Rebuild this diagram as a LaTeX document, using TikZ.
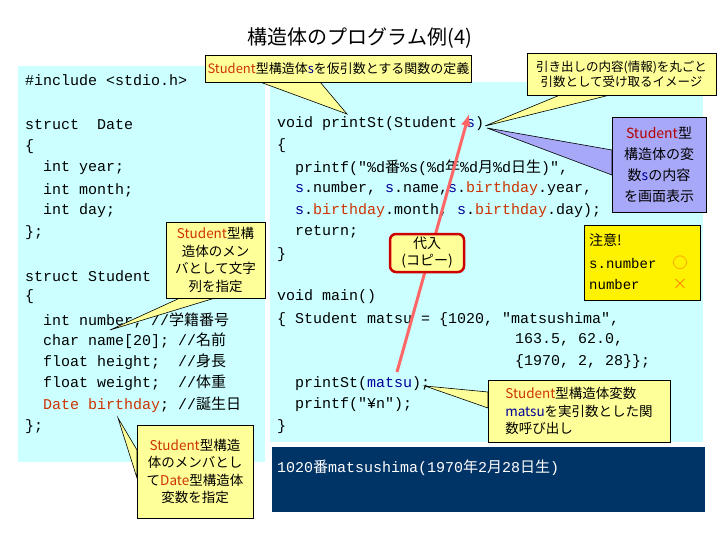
\documentclass[tikz,border=0pt]{standalone}
\usepackage{fontspec}
\usetikzlibrary{arrows.meta}
\setmainfont{Noto Sans CJK JP}
\newfontfamily\cjk{Noto Sans CJK JP}
\newfontfamily\code{Liberation Mono}
\newcommand{\J}[1]{{\cjk #1}}
\newcommand{\I}{\hspace*{1.2em}}
\definecolor{panel}{HTML}{CCFFFF}
\definecolor{callY}{HTML}{FFFF99}
\definecolor{orng}{HTML}{CC3300}
\definecolor{blu}{HTML}{000099}
\definecolor{navy}{HTML}{003366}
\definecolor{purp}{HTML}{A8A8F8}
\newcommand{\Or}[1]{\textcolor{orng}{#1}}
\newcommand{\Bl}[1]{\textcolor{blu}{#1}}
\begin{document}
\begin{tikzpicture}[x=1pt,y=-1pt,
  cl/.style={anchor=west,inner sep=0pt,font=\code\fontsize{15}{16}\selectfont},
  callbox/.style={draw=black,line width=0.6pt,align=center,inner sep=2pt,font=\cjk\fontsize{13.5}{17.5}\selectfont},
  ptr/.style={draw=black,line width=0.6pt}]
\useasboundingbox (0,0) rectangle (720,540);
\fill[white] (0,0) rectangle (720,540);
\node[font=\cjk\fontsize{20}{22}\selectfont] (title) at (360,38) {構造体のプログラム例(4)};
\fill[panel] (18,66) rectangle (265,462);
\fill[panel] (270,82) rectangle (703,442);
\fill[navy] (272,447) rectangle (705,512);
% left code
\node[cl] (l1) at (25,80) {\#include <stdio.h>};
\node[cl] (l2) at (25,125) {struct\hspace*{1.2em}Date};
\node[cl] (l3) at (25,147) {\{};
\node[cl] (l4) at (25,168) {\I int year;};
\node[cl] (l5) at (25,190) {\I int month;};
\node[cl] (l6) at (25,211) {\I int day;};
\node[cl] (l7) at (25,233) {\};};
\node[cl] (l8) at (25,276) {struct Student};
\node[cl] (l9) at (25,297) {\{};
\node[cl] (l10) at (25,320) {\I int number; //\J{学籍番号}};
\node[cl] (l11) at (25,341) {\I char name[20]; //\J{名前}};
\node[cl] (l12) at (25,362) {\I float height;\hspace*{1.2em}//\J{身長}};
\node[cl] (l13) at (25,383) {\I float weight;\hspace*{1.2em}//\J{体重}};
\node[cl] (l14) at (25,405) {\I \Or{Date birthday}; //\J{誕生日}};
\node[cl] (l15) at (25,427) {\};};
% right code
\node[cl] (r1) at (277,124) {void printSt(Student \Bl{s})};
\node[cl] (r2) at (277,146) {\{};
\node[cl] (r3) at (277,168) {\I printf("\%d\J{番}\%s(\%d\J{年}\%d\J{月}\%d\J{日生})",};
\node[cl] (r4) at (277,189) {\I \Bl{s}.number, \Bl{s}.name,\Bl{s}.\Or{birthday}.year,};
\node[cl] (r5) at (277,211) {\I \Bl{s}.\Or{birthday}.month, \Bl{s}.\Or{birthday}.day);};
\node[cl] (r6) at (277,232) {\I return;};
\node[cl] (r7) at (277,255) {\}};
\node[cl] (r8) at (277,297) {void main()};
\node[cl] (r9) at (277,320) {\{ Student matsu = \{1020, "matsushima",};
\node[cl] (r10) at (515,340) {163.5, 62.0,};
\node[cl] (r11) at (515,362) {\{1970, 2, 28\}\};};
\node[cl] (r12) at (277,384) {\I printSt(\Bl{matsu});};
\node[cl] (r13) at (277,405) {\I printf("\textyen n");};
\node[cl] (r14) at (277,427) {\}};
\node[cl,text=white] (out) at (277,468) {1020\J{番}matsushima(1970\J{年}2\J{月}28\J{日生})};
% red arrow
\coordinate (af) at (397,372);
\coordinate (at) at (469,114);
\draw[line width=3pt,color=red!60!white,-{Latex[length=12pt,width=10pt]}] (af) -- (at);
\node[draw=red!80!black,line width=2.5pt,fill=callY,rounded corners=6pt,minimum width=74pt,minimum height=38pt,align=center,font=\cjk\fontsize{14}{17}\selectfont,inner sep=1pt] (copy) at (427,253) {代入\\(コピー)};
% callouts
\coordinate (p1) at (347,114);
\filldraw[ptr,fill=callY] (260,82) -- (p1) -- (320,82) -- cycle;
\node[callbox,fill=callY,minimum width=263pt,minimum height=27pt,font=\cjk\fontsize{13}{16}\selectfont] (c1) at (338.5,68.5) {\Or{Student}型構造体\Bl{s}を仮引数とする関数の定義};
\coordinate (p2) at (485,126);
\filldraw[ptr,fill=callY] (560,95) -- (p2) -- (610,95) -- cycle;
\node[callbox,fill=callY,minimum width=189pt,minimum height=42pt,font=\cjk\fontsize{12.5}{15}\selectfont] (c2) at (621.5,74) {引き出しの内容(情報)を丸ごと\\引数として受け取るイメージ};
\coordinate (p3) at (487,128);
\filldraw[ptr,fill=purp] (612,150) -- (p3) -- (612,175) -- cycle;
\node[callbox,fill=purp,minimum width=94pt,minimum height=95pt,font=\cjk\fontsize{14}{21}\selectfont] (c3) at (659,164.5) {\textcolor{red!70!black}{Student}型\\構造体の変\\数\textcolor{blu}{s}の内容\\を画面表示};
\node[callbox,fill=yellow,minimum width=116pt,minimum height=75pt,anchor=north west] (c4) at (584,225) {};
\node[anchor=west,font=\cjk\fontsize{14}{16}\selectfont,inner sep=0pt] (n1) at (589,240) {注意!};
\node[cl,font=\code\fontsize{14}{16}\selectfont] (n2) at (589,263) {s.number};
\node[cl,font=\code\fontsize{14}{16}\selectfont] (n3) at (589,284) {number};
\node[font=\cjk\fontsize{15}{16}\selectfont,text=orange,inner sep=0pt] (n4) at (680,263) {○};
\node[font=\cjk\fontsize{15}{16}\selectfont,text=orange,inner sep=0pt] (n5) at (680,284) {×};
\coordinate (p5) at (110,330);
\filldraw[ptr,fill=callY] (180,298) -- (p5) -- (215,298) -- cycle;
\node[callbox,fill=callY,minimum width=99pt,minimum height=76pt] (c5) at (215.5,260) {\Or{Student}型構\\造体のメン\\バとして文字\\列を指定};
\coordinate (p6) at (118,418);
\filldraw[ptr,fill=callY] (137,450) -- (p6) -- (137,478) -- cycle;
\node[callbox,fill=callY,minimum width=116pt,minimum height=93pt] (c6) at (195,471.5) {\Or{Student}型構造\\体のメンバとし\\て\Or{Date}型構造体\\変数を指定};
\coordinate (p7) at (425,386);
\filldraw[ptr,fill=callY] (488,392) -- (p7) -- (488,408) -- cycle;
\node[callbox,fill=callY,minimum width=182pt,minimum height=62pt,align=left] (c7) at (579,411) {\Or{Student}型構造体変数\\\Bl{matsu}を実引数とした関\\数呼び出し};
\end{tikzpicture}
\end{document}
